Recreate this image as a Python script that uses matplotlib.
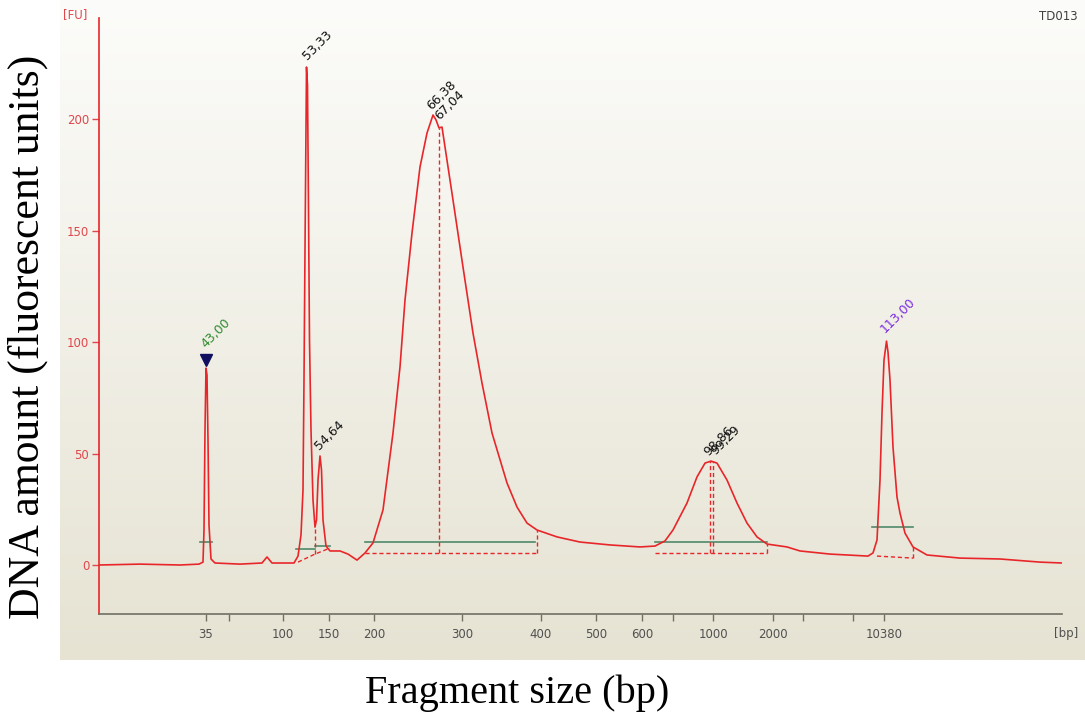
import numpy as np
import matplotlib
matplotlib.use("Agg")
import matplotlib.pyplot as plt

# -----------------------------
# Data (migration time [s] -> fluorescence [FU])
# -----------------------------
trace_t = [20.0, 24.1, 28.1, 30.0, 30.4, 30.5, 30.6, 30.7, 30.8, 30.9, 31.0, 31.2, 31.6,
           34.1, 36.3, 36.8, 37.3, 39.5, 39.9, 40.2, 40.4, 40.5, 40.6, 40.75, 40.85,
           40.95, 41.05, 41.2, 41.4, 41.6, 41.75, 41.9, 42.1, 42.25, 42.4, 42.7, 43.1,
           44.1, 44.9, 45.8, 46.6, 47.4, 48.4, 49.4, 50.1, 50.6, 51.3, 52.1, 52.8, 53.4,
           53.7, 54.0, 54.3, 55.4, 56.4, 57.4, 58.3, 59.3, 60.8, 61.8, 62.8, 63.8, 65.8,
           68.1, 71.1, 74.1, 75.6, 76.6, 77.4, 78.8, 79.8, 80.6, 81.2, 81.8, 82.8, 83.8,
           84.8, 85.8, 86.8, 88.8, 90.1, 93.1, 96.9, 97.4, 97.8, 98.1, 98.3, 98.5, 98.75,
           98.9, 99.1, 99.4, 99.8, 100.1, 100.6, 101.4, 102.8, 106.1, 110.1, 114.1, 116.3]
trace_fu = [0.0, 0.4, 0.0, 0.4, 1.3, 15.7, 60.5, 88.3, 85.2, 56.1, 17.9, 2.7, 0.9,
            0.4, 0.9, 3.6, 0.9, 0.9, 4.0, 13.5, 33.6, 83.0, 141.3, 223.3, 215.2,
            159.2, 100.9, 60.5, 29.1, 17.0, 20.2, 38.1, 48.9, 42.6, 20.2, 8.5, 6.3,
            6.3, 4.9, 2.2, 5.4, 9.9, 24.7, 59.2, 88.8, 118.8, 148.9, 178.5, 193.7, 201.8,
            199.6, 196.0, 196.4, 163.7, 133.6, 104.0, 81.6, 59.2, 36.8, 26.0, 18.8, 15.7, 12.6,
            10.3, 9.0, 8.1, 8.5, 10.8, 15.7, 27.8, 39.5, 45.7, 46.6, 45.7, 38.1, 27.8,
            18.8, 12.6, 9.4, 8.1, 6.3, 4.9, 4.0, 5.4, 11.2, 38.1, 68.2, 91.9, 100.4,
            95.5, 83.0, 52.9, 30.5, 23.3, 14.3, 8.1, 4.5, 3.1, 2.7, 1.3, 0.9]

# size ladder ticks (time position -> bp label, "" = unlabelled tick)
tick_t = [30.7, 33.0, 38.4, 43.0, 47.5, 56.3, 64.2, 69.7, 74.3, 77.4, 81.4, 87.4, 90.4, 95.4, 98.5]
tick_lbl = ["35", "", "100", "150", "200", "300", "400", "500", "600", "", "1000", "2000", "", "", "10380"]

# peak width bars (start, end, level)
width_t0 = [30.1, 39.7, 41.6, 46.6, 75.6, 97.3]
width_t1 = [31.3, 41.6, 43.1, 63.6, 86.8, 101.4]
width_fu = [10.3, 7.2, 8.5, 10.3, 10.3, 17.0]

# peak labels (time, FU, text, colour)
lbl_t = [30.9, 41.0, 42.2, 53.5, 54.3, 81.2, 81.9, 98.8]
lbl_fu = [96.4, 225.6, 50.7, 203.0, 198.7, 48.0, 48.4, 103.0]
lbl_txt = ["43,00", "53,33", "54,64", "66,38", "67,04", "98,86", "99,29", "113,00"]
lbl_col = ["#2e8b2e", "#111111", "#111111", "#111111", "#111111", "#111111", "#111111", "#7a2be0"]

RED = "#e8262a"
GREEN = "#4f8a6a"

fig = plt.figure(figsize=(10.85, 7.2), dpi=100)

# -----------------------------
# beige gradient panel
# -----------------------------
bg = fig.add_axes([60 / 1085, 60 / 720, 1025 / 1085, 660 / 720])
top = np.array([252, 252, 250]) / 255
bot = np.array([230, 227, 211]) / 255
grad = np.linspace(0, 1, 256)[:, None, None] * (bot - top) + top
bg.imshow(np.repeat(grad, 2, axis=1), aspect="auto", extent=[0, 1, 0, 1])
bg.axis("off")

# -----------------------------
# main axes
# -----------------------------
ax = fig.add_axes([99 / 1085, 106 / 720, 963 / 1085, 596 / 720])
ax.patch.set_alpha(0)
ax.set_xlim(20, 116.3)
ax.set_ylim(-21.97, 245.3)

ax.plot(trace_t, trace_fu, color=RED, lw=1.2, zorder=3)

for t0, t1, f in zip(width_t0, width_t1, width_fu):
    ax.plot([t0, t1], [f, f], color=GREEN, lw=1.2, zorder=2)

# dashed integration baselines / peak drop lines
dash = dict(color=RED, lw=1.0, ls=(0, (3, 2)), zorder=2)
ax.plot([39.9, 41.6, 43.1], [1.3, 4.9, 7.6], **dash)
ax.plot([41.6, 41.6], [4.9, 17.0], **dash)
ax.plot([46.6, 63.8], [5.4, 5.4], **dash)
ax.plot([54.0, 54.0], [5.4, 196.0], **dash)
ax.plot([63.8, 63.8], [5.4, 15.7], **dash)
ax.plot([75.6, 86.8], [5.4, 5.4], **dash)
ax.plot([81.1, 81.1], [5.4, 46.5], **dash)
ax.plot([81.4, 81.4], [5.4, 46.5], **dash)
ax.plot([86.8, 86.8], [5.4, 9.4], **dash)
ax.plot([97.8, 101.4], [4.0, 3.1], **dash)
ax.plot([101.4, 101.4], [3.1, 8.1], **dash)

# lower marker triangle
ax.plot([30.7], [92], marker="v", color="#101060", markersize=8, zorder=4)

for t, f, s, c in zip(lbl_t, lbl_fu, lbl_txt, lbl_col):
    ax.text(t, f, s, rotation=45, rotation_mode="anchor", ha="left", va="bottom",
            fontsize=9, color=c, zorder=5)

# axes styling
for side in ["top", "right"]:
    ax.spines[side].set_visible(False)
ax.spines["left"].set_color(RED)
ax.spines["left"].set_linewidth(1.2)
ax.spines["bottom"].set_color("#707062")
ax.spines["bottom"].set_linewidth(1.2)

ax.set_yticks([0, 50, 100, 150, 200])
ax.tick_params(axis="y", colors="#e0474c", labelsize=8.5, length=5, width=1, pad=2)
ax.set_xticks(tick_t)
ax.set_xticklabels(tick_lbl)
ax.tick_params(axis="x", colors="#707062", labelcolor="#505050", labelsize=8.5,
               length=5, width=1, pad=5)

fig.text(75 / 1085, 1 - 15 / 720, "[FU]", color="#e0474c", fontsize=8.5, ha="center", va="center")
fig.text(1058 / 1085, 1 - 17 / 720, "TD013", color="#404040", fontsize=8.5, ha="center", va="center")
fig.text(1066 / 1085, 1 - 633 / 720, "[bp]", color="#505050", fontsize=8.5, ha="center", va="center")

serif = ["Liberation Serif", "DejaVu Serif"]
fig.text(28 / 1085, 1 - 337 / 720, "DNA amount (fluorescent units)", rotation=90,
         family=serif, fontsize=31.5, ha="center", va="center")
fig.text(517 / 1085, 1 - 693 / 720, "Fragment size (bp)", family=serif, fontsize=29,
         ha="center", va="center")

fig.savefig("out.png", dpi=100)
